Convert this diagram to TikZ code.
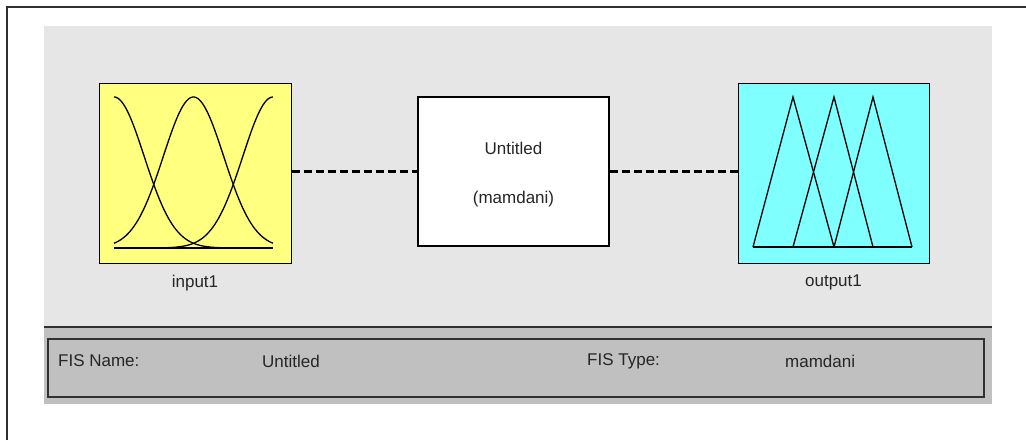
\documentclass[tikz,border=0pt]{standalone}
\usepackage{fontspec}
\setmainfont{Liberation Sans}
\usetikzlibrary{positioning}
\definecolor{panel-gray}{HTML}{E6E6E6}
\definecolor{bar-gray}{HTML}{C0C0C0}
\definecolor{mf-yellow}{HTML}{FFFF80}
\definecolor{mf-cyan}{HTML}{80FFFF}
\definecolor{line-dark}{HTML}{303030}
\tikzset{
    mf-box/.style = {draw=black, line width=1pt, rectangle, inner sep=0pt, minimum width=192pt, minimum height=180pt},
    fis-box/.style = {draw=black, fill=white, line width=2pt, rectangle, inner sep=0pt, minimum width=191pt, minimum height=149pt},
    mf-curve/.style = {draw=black, line width=1.3pt},
    gui-text/.style = {font=\fontsize{17}{20}\selectfont, text=black!85, inner sep=0pt},
    link-dash/.style = {draw=black, line width=2.2pt, dash pattern=on 8pt off 4pt},
}

\begin{document}
\begin{tikzpicture}[x=1pt, y=-1pt]
\useasboundingbox (0,0) rectangle (1026,440);
% window frame
\draw[line width=1.5pt, line-dark] (7,440) -- (7,7) -- (1026,7);
% panels
\fill[panel-gray] (44,26) rectangle (992,327);
\fill[bar-gray] (44,327) rectangle (992,404);
\draw[line width=1.5pt, line-dark] (44,327) -- (992,327);
\draw[line width=1.2pt, line-dark] (48,339) rectangle (984,397);

% input, system and output blocks
\node[mf-box, fill=mf-yellow] (input1) at (195,173) {};
\node[fis-box] (fis) at (513.5,171.5) {};
\node[mf-box, fill=mf-cyan, minimum width=191pt] (output1) at (833.5,173) {};

\node[gui-text] (fis-name) at (513.5,148) {Untitled};
\node[gui-text] (fis-type) at (513.5,199) {(mamdani)};
\node[gui-text, below=11pt of input1] (input1-label) {input1};
\node[gui-text, below=11pt of output1] (output1-label) {output1};

% membership functions
\foreach \c in {0,0.5,1}
    \draw[mf-curve] plot[domain=0:1, samples=80, smooth]
        ({114+159*\x}, {248-151*exp(-((\x-\c)^2)/(2*0.19*0.19))});
\draw[mf-curve] (114,248) -- (273,248);
\foreach \a/\b/\c in {753/793/834, 793/834/873, 834/873/912}
    \draw[mf-curve, line join=miter] (\a,247) -- (\b,97) -- (\c,247);
\draw[mf-curve] (753,247) -- (912,247);

% connections
\draw[link-dash] (input1.east |- fis.west) -- (fis.west);
\draw[link-dash] (fis.east) -- (output1.west |- fis.east);

% info bar
\node[gui-text, anchor=west] (name-key) at (58,361) {FIS Name:};
\node[gui-text, anchor=west] (name-val) at (262,361) {Untitled};
\node[gui-text, anchor=west] (type-key) at (587,361) {FIS Type:};
\node[gui-text, anchor=west] (type-val) at (785,361) {mamdani};
\end{tikzpicture}
\end{document}
